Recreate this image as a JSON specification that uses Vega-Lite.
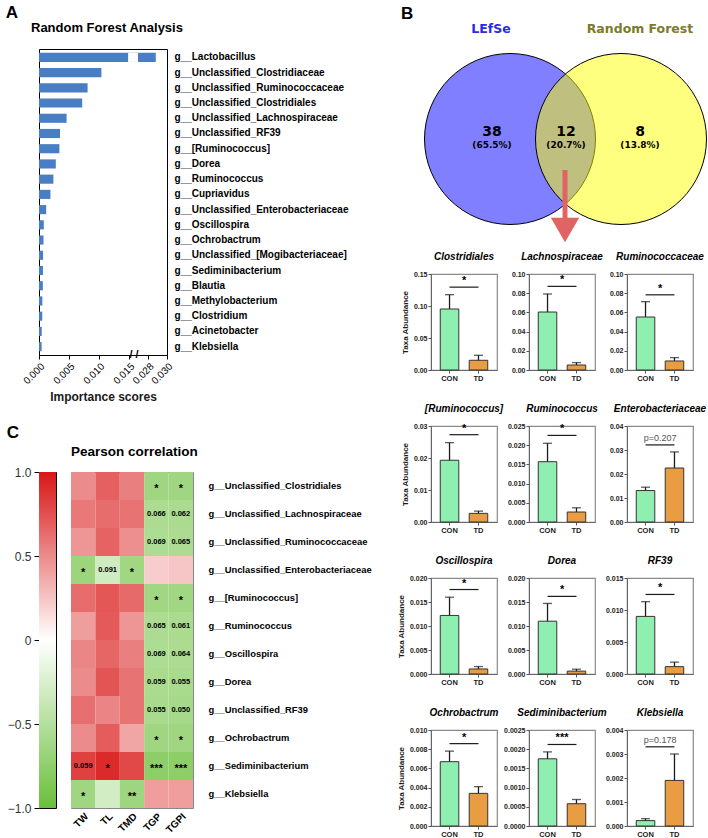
{
  "$schema": "https://vega.github.io/schema/vega-lite/v6.json",
  "background": "white",
  "padding": {"left": 5, "top": 3, "right": 0, "bottom": 2},
  "datasets": {
    "rf": [
      {"genus": "g__Lactobacillus", "importance": 0.0288},
      {"genus": "g__Unclassified_Clostridiaceae", "importance": 0.0104},
      {"genus": "g__Unclassified_Ruminococcaceae", "importance": 0.0081},
      {"genus": "g__Unclassified_Clostridiales", "importance": 0.0072},
      {"genus": "g__Unclassified_Lachnospiraceae", "importance": 0.0046},
      {"genus": "g__Unclassified_RF39", "importance": 0.0035},
      {"genus": "g__[Ruminococcus]", "importance": 0.0034},
      {"genus": "g__Dorea", "importance": 0.0028},
      {"genus": "g__Ruminococcus", "importance": 0.0024},
      {"genus": "g__Cupriavidus", "importance": 0.0019},
      {"genus": "g__Unclassified_Enterobacteriaceae", "importance": 0.0012},
      {"genus": "g__Oscillospira", "importance": 0.0008},
      {"genus": "g__Ochrobactrum", "importance": 0.00075},
      {"genus": "g__Unclassified_[Mogibacteriaceae]", "importance": 0.00068},
      {"genus": "g__Sediminibacterium", "importance": 0.00066},
      {"genus": "g__Blautia", "importance": 0.00064},
      {"genus": "g__Methylobacterium", "importance": 0.00056},
      {"genus": "g__Clostridium", "importance": 0.00054},
      {"genus": "g__Acinetobacter", "importance": 0.00046},
      {"genus": "g__Klebsiella", "importance": 0.00044}
    ],
    "venn_sets": [
      {"set": "LEfSe", "n": 50},
      {"set": "Random Forest", "n": 20}
    ],
    "venn": [
      {"region": "LEfSe only", "count": "38", "pct": "(65.5%)"},
      {"region": "Both", "count": "12", "pct": "(20.7%)"},
      {"region": "Random Forest only", "count": "8", "pct": "(13.8%)"}
    ],
    "abund": [
      {"genus": "Clostridiales", "group": "CON", "mean": 0.0953, "sd": 0.0224, "sig": "*"},
      {"genus": "Clostridiales", "group": "TD", "mean": 0.0152, "sd": 0.0078, "sig": "*"},
      {"genus": "Lachnospiraceae", "group": "CON", "mean": 0.0604, "sd": 0.0188, "sig": "*"},
      {"genus": "Lachnospiraceae", "group": "TD", "mean": 0.0052, "sd": 0.0025, "sig": "*"},
      {"genus": "Ruminococcaceae", "group": "CON", "mean": 0.0552, "sd": 0.016, "sig": "*"},
      {"genus": "Ruminococcaceae", "group": "TD", "mean": 0.0094, "sd": 0.0035, "sig": "*"},
      {"genus": "[Ruminococcus]", "group": "CON", "mean": 0.0193, "sd": 0.0055, "sig": "*"},
      {"genus": "[Ruminococcus]", "group": "TD", "mean": 0.0027, "sd": 0.0007, "sig": "*"},
      {"genus": "Ruminococcus", "group": "CON", "mean": 0.0157, "sd": 0.0048, "sig": "*"},
      {"genus": "Ruminococcus", "group": "TD", "mean": 0.0026, "sd": 0.0011, "sig": "*"},
      {"genus": "Enterobacteriaceae", "group": "CON", "mean": 0.0131, "sd": 0.0014, "sig": "p=0.207"},
      {"genus": "Enterobacteriaceae", "group": "TD", "mean": 0.0225, "sd": 0.0067, "sig": "p=0.207"},
      {"genus": "Oscillospira", "group": "CON", "mean": 0.0122, "sd": 0.0038, "sig": "*"},
      {"genus": "Oscillospira", "group": "TD", "mean": 0.00105, "sd": 0.0005, "sig": "*"},
      {"genus": "Dorea", "group": "CON", "mean": 0.011, "sd": 0.0037, "sig": "*"},
      {"genus": "Dorea", "group": "TD", "mean": 0.0006, "sd": 0.0004, "sig": "*"},
      {"genus": "RF39", "group": "CON", "mean": 0.009, "sd": 0.0023, "sig": "*"},
      {"genus": "RF39", "group": "TD", "mean": 0.00115, "sd": 0.0007, "sig": "*"},
      {"genus": "Ochrobactrum", "group": "CON", "mean": 0.0067, "sd": 0.0011, "sig": "*"},
      {"genus": "Ochrobactrum", "group": "TD", "mean": 0.0034, "sd": 0.0007, "sig": "*"},
      {"genus": "Sediminibacterium", "group": "CON", "mean": 0.00175, "sd": 0.00018, "sig": "***"},
      {"genus": "Sediminibacterium", "group": "TD", "mean": 0.00058, "sd": 0.00011, "sig": "***"},
      {"genus": "Klebsiella", "group": "CON", "mean": 0.000225, "sd": 0.00008, "sig": "p=0.178"},
      {"genus": "Klebsiella", "group": "TD", "mean": 0.0019, "sd": 0.0011, "sig": "p=0.178"}
    ],
    "corr": [
      {"genus": "g__Unclassified_Clostridiales", "var": "TW", "r": 0.5, "label": ""},
      {"genus": "g__Unclassified_Clostridiales", "var": "TL", "r": 0.68, "label": ""},
      {"genus": "g__Unclassified_Clostridiales", "var": "TMD", "r": 0.55, "label": ""},
      {"genus": "g__Unclassified_Clostridiales", "var": "TGP", "r": -0.64, "label": "*"},
      {"genus": "g__Unclassified_Clostridiales", "var": "TGPI", "r": -0.64, "label": "*"},
      {"genus": "g__Unclassified_Lachnospiraceae", "var": "TW", "r": 0.58, "label": ""},
      {"genus": "g__Unclassified_Lachnospiraceae", "var": "TL", "r": 0.63, "label": ""},
      {"genus": "g__Unclassified_Lachnospiraceae", "var": "TMD", "r": 0.6, "label": ""},
      {"genus": "g__Unclassified_Lachnospiraceae", "var": "TGP", "r": -0.56, "label": "0.066"},
      {"genus": "g__Unclassified_Lachnospiraceae", "var": "TGPI", "r": -0.57, "label": "0.062"},
      {"genus": "g__Unclassified_Ruminococcaceae", "var": "TW", "r": 0.45, "label": ""},
      {"genus": "g__Unclassified_Ruminococcaceae", "var": "TL", "r": 0.67, "label": ""},
      {"genus": "g__Unclassified_Ruminococcaceae", "var": "TMD", "r": 0.48, "label": ""},
      {"genus": "g__Unclassified_Ruminococcaceae", "var": "TGP", "r": -0.55, "label": "0.069"},
      {"genus": "g__Unclassified_Ruminococcaceae", "var": "TGPI", "r": -0.56, "label": "0.065"},
      {"genus": "g__Unclassified_Enterobacteriaceae", "var": "TW", "r": -0.66, "label": "*"},
      {"genus": "g__Unclassified_Enterobacteriaceae", "var": "TL", "r": -0.32, "label": "0.091"},
      {"genus": "g__Unclassified_Enterobacteriaceae", "var": "TMD", "r": -0.63, "label": "*"},
      {"genus": "g__Unclassified_Enterobacteriaceae", "var": "TGP", "r": 0.22, "label": ""},
      {"genus": "g__Unclassified_Enterobacteriaceae", "var": "TGPI", "r": 0.25, "label": ""},
      {"genus": "g__[Ruminococcus]", "var": "TW", "r": 0.63, "label": ""},
      {"genus": "g__[Ruminococcus]", "var": "TL", "r": 0.72, "label": ""},
      {"genus": "g__[Ruminococcus]", "var": "TMD", "r": 0.64, "label": ""},
      {"genus": "g__[Ruminococcus]", "var": "TGP", "r": -0.63, "label": "*"},
      {"genus": "g__[Ruminococcus]", "var": "TGPI", "r": -0.63, "label": "*"},
      {"genus": "g__Ruminococcus", "var": "TW", "r": 0.42, "label": ""},
      {"genus": "g__Ruminococcus", "var": "TL", "r": 0.71, "label": ""},
      {"genus": "g__Ruminococcus", "var": "TMD", "r": 0.45, "label": ""},
      {"genus": "g__Ruminococcus", "var": "TGP", "r": -0.56, "label": "0.065"},
      {"genus": "g__Ruminococcus", "var": "TGPI", "r": -0.57, "label": "0.061"},
      {"genus": "g__Oscillospira", "var": "TW", "r": 0.52, "label": ""},
      {"genus": "g__Oscillospira", "var": "TL", "r": 0.66, "label": ""},
      {"genus": "g__Oscillospira", "var": "TMD", "r": 0.55, "label": ""},
      {"genus": "g__Oscillospira", "var": "TGP", "r": -0.55, "label": "0.069"},
      {"genus": "g__Oscillospira", "var": "TGPI", "r": -0.56, "label": "0.064"},
      {"genus": "g__Dorea", "var": "TW", "r": 0.5, "label": ""},
      {"genus": "g__Dorea", "var": "TL", "r": 0.73, "label": ""},
      {"genus": "g__Dorea", "var": "TMD", "r": 0.6, "label": ""},
      {"genus": "g__Dorea", "var": "TGP", "r": -0.57, "label": "0.059"},
      {"genus": "g__Dorea", "var": "TGPI", "r": -0.58, "label": "0.055"},
      {"genus": "g__Unclassified_RF39", "var": "TW", "r": 0.62, "label": ""},
      {"genus": "g__Unclassified_RF39", "var": "TL", "r": 0.53, "label": ""},
      {"genus": "g__Unclassified_RF39", "var": "TMD", "r": 0.6, "label": ""},
      {"genus": "g__Unclassified_RF39", "var": "TGP", "r": -0.58, "label": "0.055"},
      {"genus": "g__Unclassified_RF39", "var": "TGPI", "r": -0.59, "label": "0.050"},
      {"genus": "g__Ochrobactrum", "var": "TW", "r": 0.5, "label": ""},
      {"genus": "g__Ochrobactrum", "var": "TL", "r": 0.7, "label": ""},
      {"genus": "g__Ochrobactrum", "var": "TMD", "r": 0.38, "label": ""},
      {"genus": "g__Ochrobactrum", "var": "TGP", "r": -0.64, "label": "*"},
      {"genus": "g__Ochrobactrum", "var": "TGPI", "r": -0.64, "label": "*"},
      {"genus": "g__Sediminibacterium", "var": "TW", "r": 0.82, "label": "0.059"},
      {"genus": "g__Sediminibacterium", "var": "TL", "r": 0.92, "label": "*"},
      {"genus": "g__Sediminibacterium", "var": "TMD", "r": 0.78, "label": ""},
      {"genus": "g__Sediminibacterium", "var": "TGP", "r": -0.76, "label": "***"},
      {"genus": "g__Sediminibacterium", "var": "TGPI", "r": -0.76, "label": "***"},
      {"genus": "g__Klebsiella", "var": "TW", "r": -0.64, "label": "*"},
      {"genus": "g__Klebsiella", "var": "TL", "r": -0.3, "label": ""},
      {"genus": "g__Klebsiella", "var": "TMD", "r": -0.65, "label": "**"},
      {"genus": "g__Klebsiella", "var": "TGP", "r": 0.42, "label": ""},
      {"genus": "g__Klebsiella", "var": "TGPI", "r": 0.42, "label": ""}
    ]
  },
  "config": {
    "font": "Liberation Sans",
    "view": {"stroke": null},
    "axis": {"grid": false, "labelFontSize": 7, "labelFontWeight": "bold", "labelColor": "#1a1a1a", "tickSize": 3, "tickColor": "#555555", "domainColor": "#666666", "titleFontSize": 8, "titleFontWeight": "bold", "titleColor": "#1a1a1a", "labelPadding": 1, "titlePadding": 4},
    "axisX": {"labelAngle": 0, "labelFontSize": 7.5},
    "title": {"fontSize": 10, "fontWeight": "bold", "fontStyle": "italic", "offset": 8, "color": "black"}
  },
  "columns": 2,
  "align": "none",
  "spacing": 24,
  "concat": [
    {
      "columns": 1,
      "align": "none",
      "spacing": 20,
      "concat": [
        {
          "title": {"text": "A", "anchor": "start", "fontSize": 17, "fontWeight": "bold", "fontStyle": "normal", "offset": 0, "dx": -15},
          "vconcat": [
            {
              "width": 128,
              "height": 306,
              "view": {"stroke": "black", "strokeWidth": 1},
              "title": {"text": "Random Forest Analysis", "anchor": "start", "frame": "group", "dx": -8, "fontSize": 13, "fontWeight": "bold", "fontStyle": "normal", "offset": 14},
              "data": {"name": "rf"},
              "encoding": {
                "y": {"field": "genus", "type": "nominal", "sort": null, "title": null,
                  "scale": {"paddingInner": 0.4, "paddingOuter": 0.25},
                  "axis": {"orient": "right", "ticks": false, "domain": false, "labelFontSize": 10, "labelFontWeight": "bold", "labelColor": "black", "labelPadding": 7}}
              },
              "layer": [
                {
                  "mark": {"type": "bar", "color": "#4a7ec4"},
                  "encoding": {
                    "x": {"field": "importance", "type": "quantitative", "title": "Importance scores",
                      "scale": {"domain": [0, 0.015, 0.027, 0.03], "range": [0, 90, 100, 128], "nice": false, "zero": false},
                      "axis": {"values": [0, 0.005, 0.01, 0.015, 0.028, 0.03], "tickCount": 12, "format": ".3f", "labelAngle": -45, "labelOverlap": false, "labelBound": false, "labelFontSize": 10, "labelFontWeight": "normal", "labelColor": "black", "labelPadding": 2, "tickColor": "black", "domainColor": "black", "tickSize": 4, "titleFontSize": 12, "titlePadding": 6}}
                  }
                },
                {
                  "transform": [{"filter": "datum.genus === 'g__Lactobacillus'"}],
                  "mark": {"type": "rect", "color": "white"},
                  "encoding": {
                    "x": {"datum": 0.01485, "type": "quantitative"},
                    "x2": {"datum": 0.0258},
                    "y": {"field": "genus", "type": "nominal", "sort": null}
                  }
                },
                {
                  "transform": [{"filter": "datum.genus === 'g__Klebsiella'"}],
                  "mark": {"type": "text", "text": "/ /", "fontSize": 11, "fontWeight": "bold", "dy": 8.5, "baseline": "middle", "color": "black"},
                  "encoding": {
                    "x": {"datum": 0.021, "type": "quantitative"},
                    "y": {"field": "genus", "type": "nominal", "sort": null}
                  }
                }
              ]
            }
          ]
        },
        {
          "title": {"text": "C", "anchor": "start", "fontSize": 17, "fontWeight": "bold", "fontStyle": "normal", "offset": 2, "dx": 0},
          "spacing": 13,
          "hconcat": [
            {
              "width": 17,
              "height": 336,
              "view": {"stroke": "black", "strokeWidth": 1},
              "data": {"values": [{"measure": "Pearson r"}]},
              "mark": {"type": "rect", "color": {"gradient": "linear", "x1": 0, "y1": 0, "x2": 0, "y2": 1, "stops": [{"offset": 0, "color": "#d91616"}, {"offset": 0.5, "color": "#ffffff"}, {"offset": 1, "color": "#6abf3a"}]}},
              "encoding": {
                "x": {"datum": 0, "type": "quantitative", "scale": {"domain": [0, 1], "nice": false}, "axis": null},
                "x2": {"datum": 1},
                "y": {"datum": -1, "type": "quantitative", "title": null, "scale": {"domain": [-1, 1], "nice": false},
                  "axis": {"values": [-1, -0.5, 0, 0.5, 1], "labelExpr": "datum.value === 0 ? '0' : format(datum.value, '.1f')", "labelFlush": false, "labelFontSize": 12, "labelFontWeight": "normal", "labelColor": "#333333", "tickSize": 5, "tickColor": "black", "domain": false, "labelPadding": 3}},
                "y2": {"datum": 1}
              }
            },
            {
              "width": 122,
              "height": 336,
              "view": {"stroke": "#888888", "strokeWidth": 1},
              "title": {"text": "Pearson correlation", "anchor": "start", "frame": "group", "fontSize": 13.5, "fontWeight": "bold", "fontStyle": "normal", "offset": 14},
              "data": {"name": "corr"},
              "encoding": {
                "x": {"field": "var", "type": "nominal", "sort": ["TW", "TL", "TMD", "TGP", "TGPI"], "title": null,
                  "axis": {"labelAngle": -45, "labelFontSize": 10, "labelFontWeight": "bold", "labelColor": "black", "ticks": false, "domain": false, "labelPadding": 3}},
                "y": {"field": "genus", "type": "nominal", "sort": null, "title": null,
                  "axis": {"orient": "right", "ticks": false, "domain": false, "labelFontSize": 9.4, "labelFontWeight": "bold", "labelColor": "black", "labelPadding": 15}}
              },
              "layer": [
                {
                  "mark": "rect",
                  "encoding": {
                    "color": {"field": "r", "type": "quantitative",
                      "scale": {"domain": [-1, 0, 1], "range": ["#6abf3a", "#ffffff", "#d91616"], "interpolate": "rgb"},
                      "legend": null}
                  }
                },
                {
                  "transform": [{"filter": "datum.label !== '*' && datum.label !== '**' && datum.label !== '***'"}],
                  "mark": {"type": "text", "fontSize": 7.5, "fontWeight": "bold", "color": "black"},
                  "encoding": {"text": {"field": "label"}}
                },
                {
                  "transform": [{"filter": "datum.label === '*' || datum.label === '**' || datum.label === '***'"}],
                  "mark": {"type": "text", "fontSize": 11, "fontWeight": "bold", "color": "black", "dy": 3},
                  "encoding": {"text": {"field": "label"}}
                }
              ]
            }
          ]
        }
      ]
    },
    {
      "columns": 1,
      "align": "none",
      "spacing": 8,
      "concat": [
        {
          "width": 276,
          "height": 193,
          "title": {"text": "B", "anchor": "start", "frame": "group", "fontSize": 17, "fontWeight": "bold", "fontStyle": "normal", "offset": 0, "dx": -30},
          "layer": [
            {
              "data": {"name": "venn_sets"},
              "transform": [{"filter": "datum.set === 'LEfSe'"}],
              "mark": {"type": "point", "shape": "circle", "filled": true, "fill": "#0000ff", "fillOpacity": 0.5, "opacity": 1, "stroke": "black", "strokeWidth": 1, "strokeOpacity": 1, "size": 29241},
              "encoding": {
                "x": {"datum": 79, "type": "quantitative", "scale": {"domain": [0, 276], "nice": false, "zero": false}, "axis": null},
                "y": {"datum": 90, "type": "quantitative", "scale": {"domain": [0, 193], "nice": false, "zero": false, "reverse": true}, "axis": null}
              }
            },
            {
              "data": {"name": "venn_sets"},
              "transform": [{"filter": "datum.set === 'Random Forest'"}],
              "mark": {"type": "point", "shape": "circle", "filled": true, "fill": "#ffff00", "fillOpacity": 0.5, "opacity": 1, "stroke": "black", "strokeWidth": 1, "strokeOpacity": 1, "size": 29241},
              "encoding": {
                "x": {"datum": 190, "type": "quantitative"},
                "y": {"datum": 90, "type": "quantitative"}
              }
            },
            {
              "data": {"name": "venn_sets"},
              "transform": [{"filter": "datum.set === 'LEfSe'"}],
              "mark": {"type": "text", "font": "DejaVu Sans", "fontWeight": "bold", "fontSize": 12.5, "color": "#2b2be6"},
              "encoding": {"x": {"datum": 60, "type": "quantitative"}, "y": {"datum": -20, "type": "quantitative"}, "text": {"field": "set"}}
            },
            {
              "data": {"name": "venn_sets"},
              "transform": [{"filter": "datum.set === 'Random Forest'"}],
              "mark": {"type": "text", "font": "DejaVu Sans", "fontWeight": "bold", "fontSize": 12.5, "color": "#7c7a2c"},
              "encoding": {"x": {"datum": 209, "type": "quantitative"}, "y": {"datum": -20, "type": "quantitative"}, "text": {"field": "set"}}
            },
            {
              "data": {"name": "venn"},
              "transform": [{"filter": "datum.region === 'LEfSe only'"}],
              "layer": [
                {"mark": {"type": "text", "font": "DejaVu Sans", "fontWeight": "bold", "fontSize": 14, "color": "black"},
                 "encoding": {"x": {"datum": 61, "type": "quantitative"}, "y": {"datum": 83, "type": "quantitative"}, "text": {"field": "count"}}},
                {"mark": {"type": "text", "font": "DejaVu Sans", "fontWeight": "bold", "fontSize": 9, "color": "black"},
                 "encoding": {"x": {"datum": 61, "type": "quantitative"}, "y": {"datum": 96, "type": "quantitative"}, "text": {"field": "pct"}}}
              ]
            },
            {
              "data": {"name": "venn"},
              "transform": [{"filter": "datum.region === 'Both'"}],
              "layer": [
                {"mark": {"type": "text", "font": "DejaVu Sans", "fontWeight": "bold", "fontSize": 14, "color": "black"},
                 "encoding": {"x": {"datum": 135, "type": "quantitative"}, "y": {"datum": 83, "type": "quantitative"}, "text": {"field": "count"}}},
                {"mark": {"type": "text", "font": "DejaVu Sans", "fontWeight": "bold", "fontSize": 9, "color": "black"},
                 "encoding": {"x": {"datum": 135, "type": "quantitative"}, "y": {"datum": 96, "type": "quantitative"}, "text": {"field": "pct"}}},
                {"mark": {"type": "rule", "color": "#e06464", "strokeWidth": 5},
                 "encoding": {"x": {"datum": 134, "type": "quantitative"}, "y": {"datum": 121, "type": "quantitative"}, "y2": {"datum": 171}}},
                {"mark": {"type": "point", "shape": "triangle-down", "filled": true, "color": "#e06464", "opacity": 1, "size": 800},
                 "encoding": {"x": {"datum": 134, "type": "quantitative"}, "y": {"datum": 181, "type": "quantitative"}}}
              ]
            },
            {
              "data": {"name": "venn"},
              "transform": [{"filter": "datum.region === 'Random Forest only'"}],
              "layer": [
                {"mark": {"type": "text", "font": "DejaVu Sans", "fontWeight": "bold", "fontSize": 14, "color": "black"},
                 "encoding": {"x": {"datum": 209, "type": "quantitative"}, "y": {"datum": 83, "type": "quantitative"}, "text": {"field": "count"}}},
                {"mark": {"type": "text", "font": "DejaVu Sans", "fontWeight": "bold", "fontSize": 9, "color": "black"},
                 "encoding": {"x": {"datum": 209, "type": "quantitative"}, "y": {"datum": 96, "type": "quantitative"}, "text": {"field": "pct"}}}
              ]
            }
          ]
        },
        {
          "columns": 3,
          "bounds": "flush",
          "spacing": {"row": 56, "column": 32},
          "concat": [
            {
              "width": 66, "height": 96,
              "view": {"stroke": "#8a8a8a", "strokeWidth": 1.2},
              "title": "Clostridiales",
              "data": {"name": "abund"},
              "transform": [{"filter": "datum.genus === 'Clostridiales'"}],
              "encoding": {"x": {"field": "group", "type": "nominal", "title": null, "scale": {"domain": ["CON", "TD"], "paddingInner": 0.36, "paddingOuter": 0.32}}},
              "layer": [
                {"mark": {"type": "errorbar", "ticks": true, "size": 9, "thickness": 1.3, "color": "#1a1a1a"},
                 "encoding": {"y": {"field": "mean", "type": "quantitative", "title": "Taxa Abundance", "scale": {"domain": [0, 0.15], "nice": false}, "axis": {"tickCount": 3}}, "yError": {"field": "sd"}}},
                {"mark": {"type": "bar", "stroke": "#333333", "strokeWidth": 1},
                 "encoding": {"y": {"field": "mean", "type": "quantitative", "title": "Taxa Abundance"}, "fill": {"field": "group", "type": "nominal", "scale": {"domain": ["CON", "TD"], "range": ["#8eefb0", "#e89d42"]}, "legend": null}}},
                {"transform": [{"calculate": "datum.mean + datum.sd", "as": "upper"}, {"aggregate": [{"op": "max", "field": "upper", "as": "top"}], "groupby": ["sig"]}, {"calculate": "datum.top * 1.1", "as": "sig_y"}],
                 "layer": [
                   {"mark": {"type": "rule", "strokeWidth": 1.2, "color": "#1a1a1a"}, "encoding": {"x": {"datum": "CON", "type": "nominal"}, "x2": {"datum": "TD"}, "y": {"field": "sig_y", "type": "quantitative", "title": "Taxa Abundance"}}},
                   {"mark": {"type": "text", "dx": 14.5, "dy": -1, "baseline": "bottom", "fontSize": 11, "fontWeight": "bold"}, "encoding": {"x": {"datum": "CON", "type": "nominal"}, "y": {"field": "sig_y", "type": "quantitative", "title": "Taxa Abundance"}, "text": {"field": "sig"}}}
                 ]}
              ]
            },
            {
              "width": 66, "height": 96,
              "view": {"stroke": "#8a8a8a", "strokeWidth": 1.2},
              "title": "Lachnospiraceae",
              "data": {"name": "abund"},
              "transform": [{"filter": "datum.genus === 'Lachnospiraceae'"}],
              "encoding": {"x": {"field": "group", "type": "nominal", "title": null, "scale": {"domain": ["CON", "TD"], "paddingInner": 0.36, "paddingOuter": 0.32}}},
              "layer": [
                {"mark": {"type": "errorbar", "ticks": true, "size": 9, "thickness": 1.3, "color": "#1a1a1a"},
                 "encoding": {"y": {"field": "mean", "type": "quantitative", "title": null, "scale": {"domain": [0, 0.1], "nice": false}, "axis": {"tickCount": 5}}, "yError": {"field": "sd"}}},
                {"mark": {"type": "bar", "stroke": "#333333", "strokeWidth": 1},
                 "encoding": {"y": {"field": "mean", "type": "quantitative", "title": null}, "fill": {"field": "group", "type": "nominal", "scale": {"domain": ["CON", "TD"], "range": ["#8eefb0", "#e89d42"]}, "legend": null}}},
                {"transform": [{"calculate": "datum.mean + datum.sd", "as": "upper"}, {"aggregate": [{"op": "max", "field": "upper", "as": "top"}], "groupby": ["sig"]}, {"calculate": "datum.top * 1.1", "as": "sig_y"}],
                 "layer": [
                   {"mark": {"type": "rule", "strokeWidth": 1.2, "color": "#1a1a1a"}, "encoding": {"x": {"datum": "CON", "type": "nominal"}, "x2": {"datum": "TD"}, "y": {"field": "sig_y", "type": "quantitative", "title": null}}},
                   {"mark": {"type": "text", "dx": 14.5, "dy": -1, "baseline": "bottom", "fontSize": 11, "fontWeight": "bold"}, "encoding": {"x": {"datum": "CON", "type": "nominal"}, "y": {"field": "sig_y", "type": "quantitative", "title": null}, "text": {"field": "sig"}}}
                 ]}
              ]
            },
            {
              "width": 66, "height": 96,
              "view": {"stroke": "#8a8a8a", "strokeWidth": 1.2},
              "title": "Ruminococcaceae",
              "data": {"name": "abund"},
              "transform": [{"filter": "datum.genus === 'Ruminococcaceae'"}],
              "encoding": {"x": {"field": "group", "type": "nominal", "title": null, "scale": {"domain": ["CON", "TD"], "paddingInner": 0.36, "paddingOuter": 0.32}}},
              "layer": [
                {"mark": {"type": "errorbar", "ticks": true, "size": 9, "thickness": 1.3, "color": "#1a1a1a"},
                 "encoding": {"y": {"field": "mean", "type": "quantitative", "title": null, "scale": {"domain": [0, 0.1], "nice": false}, "axis": {"tickCount": 5}}, "yError": {"field": "sd"}}},
                {"mark": {"type": "bar", "stroke": "#333333", "strokeWidth": 1},
                 "encoding": {"y": {"field": "mean", "type": "quantitative", "title": null}, "fill": {"field": "group", "type": "nominal", "scale": {"domain": ["CON", "TD"], "range": ["#8eefb0", "#e89d42"]}, "legend": null}}},
                {"transform": [{"calculate": "datum.mean + datum.sd", "as": "upper"}, {"aggregate": [{"op": "max", "field": "upper", "as": "top"}], "groupby": ["sig"]}, {"calculate": "datum.top * 1.1", "as": "sig_y"}],
                 "layer": [
                   {"mark": {"type": "rule", "strokeWidth": 1.2, "color": "#1a1a1a"}, "encoding": {"x": {"datum": "CON", "type": "nominal"}, "x2": {"datum": "TD"}, "y": {"field": "sig_y", "type": "quantitative", "title": null}}},
                   {"mark": {"type": "text", "dx": 14.5, "dy": -1, "baseline": "bottom", "fontSize": 11, "fontWeight": "bold"}, "encoding": {"x": {"datum": "CON", "type": "nominal"}, "y": {"field": "sig_y", "type": "quantitative", "title": null}, "text": {"field": "sig"}}}
                 ]}
              ]
            },
            {
              "width": 66, "height": 96,
              "view": {"stroke": "#8a8a8a", "strokeWidth": 1.2},
              "title": "[Ruminococcus]",
              "data": {"name": "abund"},
              "transform": [{"filter": "datum.genus === '[Ruminococcus]'"}],
              "encoding": {"x": {"field": "group", "type": "nominal", "title": null, "scale": {"domain": ["CON", "TD"], "paddingInner": 0.36, "paddingOuter": 0.32}}},
              "layer": [
                {"mark": {"type": "errorbar", "ticks": true, "size": 9, "thickness": 1.3, "color": "#1a1a1a"},
                 "encoding": {"y": {"field": "mean", "type": "quantitative", "title": "Taxa Abundance", "scale": {"domain": [0, 0.03], "nice": false}, "axis": {"tickCount": 3}}, "yError": {"field": "sd"}}},
                {"mark": {"type": "bar", "stroke": "#333333", "strokeWidth": 1},
                 "encoding": {"y": {"field": "mean", "type": "quantitative", "title": "Taxa Abundance"}, "fill": {"field": "group", "type": "nominal", "scale": {"domain": ["CON", "TD"], "range": ["#8eefb0", "#e89d42"]}, "legend": null}}},
                {"transform": [{"calculate": "datum.mean + datum.sd", "as": "upper"}, {"aggregate": [{"op": "max", "field": "upper", "as": "top"}], "groupby": ["sig"]}, {"calculate": "datum.top * 1.1", "as": "sig_y"}],
                 "layer": [
                   {"mark": {"type": "rule", "strokeWidth": 1.2, "color": "#1a1a1a"}, "encoding": {"x": {"datum": "CON", "type": "nominal"}, "x2": {"datum": "TD"}, "y": {"field": "sig_y", "type": "quantitative", "title": "Taxa Abundance"}}},
                   {"mark": {"type": "text", "dx": 14.5, "dy": -1, "baseline": "bottom", "fontSize": 11, "fontWeight": "bold"}, "encoding": {"x": {"datum": "CON", "type": "nominal"}, "y": {"field": "sig_y", "type": "quantitative", "title": "Taxa Abundance"}, "text": {"field": "sig"}}}
                 ]}
              ]
            },
            {
              "width": 66, "height": 96,
              "view": {"stroke": "#8a8a8a", "strokeWidth": 1.2},
              "title": "Ruminococcus",
              "data": {"name": "abund"},
              "transform": [{"filter": "datum.genus === 'Ruminococcus'"}],
              "encoding": {"x": {"field": "group", "type": "nominal", "title": null, "scale": {"domain": ["CON", "TD"], "paddingInner": 0.36, "paddingOuter": 0.32}}},
              "layer": [
                {"mark": {"type": "errorbar", "ticks": true, "size": 9, "thickness": 1.3, "color": "#1a1a1a"},
                 "encoding": {"y": {"field": "mean", "type": "quantitative", "title": null, "scale": {"domain": [0, 0.025], "nice": false}, "axis": {"tickCount": 5}}, "yError": {"field": "sd"}}},
                {"mark": {"type": "bar", "stroke": "#333333", "strokeWidth": 1},
                 "encoding": {"y": {"field": "mean", "type": "quantitative", "title": null}, "fill": {"field": "group", "type": "nominal", "scale": {"domain": ["CON", "TD"], "range": ["#8eefb0", "#e89d42"]}, "legend": null}}},
                {"transform": [{"calculate": "datum.mean + datum.sd", "as": "upper"}, {"aggregate": [{"op": "max", "field": "upper", "as": "top"}], "groupby": ["sig"]}, {"calculate": "datum.top * 1.1", "as": "sig_y"}],
                 "layer": [
                   {"mark": {"type": "rule", "strokeWidth": 1.2, "color": "#1a1a1a"}, "encoding": {"x": {"datum": "CON", "type": "nominal"}, "x2": {"datum": "TD"}, "y": {"field": "sig_y", "type": "quantitative", "title": null}}},
                   {"mark": {"type": "text", "dx": 14.5, "dy": -1, "baseline": "bottom", "fontSize": 11, "fontWeight": "bold"}, "encoding": {"x": {"datum": "CON", "type": "nominal"}, "y": {"field": "sig_y", "type": "quantitative", "title": null}, "text": {"field": "sig"}}}
                 ]}
              ]
            },
            {
              "width": 66, "height": 96,
              "view": {"stroke": "#8a8a8a", "strokeWidth": 1.2},
              "title": "Enterobacteriaceae",
              "data": {"name": "abund"},
              "transform": [{"filter": "datum.genus === 'Enterobacteriaceae'"}],
              "encoding": {"x": {"field": "group", "type": "nominal", "title": null, "scale": {"domain": ["CON", "TD"], "paddingInner": 0.36, "paddingOuter": 0.32}}},
              "layer": [
                {"mark": {"type": "errorbar", "ticks": true, "size": 9, "thickness": 1.3, "color": "#1a1a1a"},
                 "encoding": {"y": {"field": "mean", "type": "quantitative", "title": null, "scale": {"domain": [0, 0.04], "nice": false}, "axis": {"tickCount": 4}}, "yError": {"field": "sd"}}},
                {"mark": {"type": "bar", "stroke": "#333333", "strokeWidth": 1},
                 "encoding": {"y": {"field": "mean", "type": "quantitative", "title": null}, "fill": {"field": "group", "type": "nominal", "scale": {"domain": ["CON", "TD"], "range": ["#8eefb0", "#e89d42"]}, "legend": null}}},
                {"transform": [{"calculate": "datum.mean + datum.sd", "as": "upper"}, {"aggregate": [{"op": "max", "field": "upper", "as": "top"}], "groupby": ["sig"]}, {"calculate": "datum.top * 1.1", "as": "sig_y"}],
                 "layer": [
                   {"mark": {"type": "rule", "strokeWidth": 1.2, "color": "#1a1a1a"}, "encoding": {"x": {"datum": "CON", "type": "nominal"}, "x2": {"datum": "TD"}, "y": {"field": "sig_y", "type": "quantitative", "title": null}}},
                   {"mark": {"type": "text", "dx": 14.5, "dy": -2, "baseline": "bottom", "fontSize": 9, "color": "#555555"}, "encoding": {"x": {"datum": "CON", "type": "nominal"}, "y": {"field": "sig_y", "type": "quantitative", "title": null}, "text": {"field": "sig"}}}
                 ]}
              ]
            },
            {
              "width": 66, "height": 96,
              "view": {"stroke": "#8a8a8a", "strokeWidth": 1.2},
              "title": "Oscillospira",
              "data": {"name": "abund"},
              "transform": [{"filter": "datum.genus === 'Oscillospira'"}],
              "encoding": {"x": {"field": "group", "type": "nominal", "title": null, "scale": {"domain": ["CON", "TD"], "paddingInner": 0.36, "paddingOuter": 0.32}}},
              "layer": [
                {"mark": {"type": "errorbar", "ticks": true, "size": 9, "thickness": 1.3, "color": "#1a1a1a"},
                 "encoding": {"y": {"field": "mean", "type": "quantitative", "title": "Taxa Abundance", "scale": {"domain": [0, 0.02], "nice": false}, "axis": {"tickCount": 4}}, "yError": {"field": "sd"}}},
                {"mark": {"type": "bar", "stroke": "#333333", "strokeWidth": 1},
                 "encoding": {"y": {"field": "mean", "type": "quantitative", "title": "Taxa Abundance"}, "fill": {"field": "group", "type": "nominal", "scale": {"domain": ["CON", "TD"], "range": ["#8eefb0", "#e89d42"]}, "legend": null}}},
                {"transform": [{"calculate": "datum.mean + datum.sd", "as": "upper"}, {"aggregate": [{"op": "max", "field": "upper", "as": "top"}], "groupby": ["sig"]}, {"calculate": "datum.top * 1.1", "as": "sig_y"}],
                 "layer": [
                   {"mark": {"type": "rule", "strokeWidth": 1.2, "color": "#1a1a1a"}, "encoding": {"x": {"datum": "CON", "type": "nominal"}, "x2": {"datum": "TD"}, "y": {"field": "sig_y", "type": "quantitative", "title": "Taxa Abundance"}}},
                   {"mark": {"type": "text", "dx": 14.5, "dy": -1, "baseline": "bottom", "fontSize": 11, "fontWeight": "bold"}, "encoding": {"x": {"datum": "CON", "type": "nominal"}, "y": {"field": "sig_y", "type": "quantitative", "title": "Taxa Abundance"}, "text": {"field": "sig"}}}
                 ]}
              ]
            },
            {
              "width": 66, "height": 96,
              "view": {"stroke": "#8a8a8a", "strokeWidth": 1.2},
              "title": "Dorea",
              "data": {"name": "abund"},
              "transform": [{"filter": "datum.genus === 'Dorea'"}],
              "encoding": {"x": {"field": "group", "type": "nominal", "title": null, "scale": {"domain": ["CON", "TD"], "paddingInner": 0.36, "paddingOuter": 0.32}}},
              "layer": [
                {"mark": {"type": "errorbar", "ticks": true, "size": 9, "thickness": 1.3, "color": "#1a1a1a"},
                 "encoding": {"y": {"field": "mean", "type": "quantitative", "title": null, "scale": {"domain": [0, 0.02], "nice": false}, "axis": {"tickCount": 4}}, "yError": {"field": "sd"}}},
                {"mark": {"type": "bar", "stroke": "#333333", "strokeWidth": 1},
                 "encoding": {"y": {"field": "mean", "type": "quantitative", "title": null}, "fill": {"field": "group", "type": "nominal", "scale": {"domain": ["CON", "TD"], "range": ["#8eefb0", "#e89d42"]}, "legend": null}}},
                {"transform": [{"calculate": "datum.mean + datum.sd", "as": "upper"}, {"aggregate": [{"op": "max", "field": "upper", "as": "top"}], "groupby": ["sig"]}, {"calculate": "datum.top * 1.1", "as": "sig_y"}],
                 "layer": [
                   {"mark": {"type": "rule", "strokeWidth": 1.2, "color": "#1a1a1a"}, "encoding": {"x": {"datum": "CON", "type": "nominal"}, "x2": {"datum": "TD"}, "y": {"field": "sig_y", "type": "quantitative", "title": null}}},
                   {"mark": {"type": "text", "dx": 14.5, "dy": -1, "baseline": "bottom", "fontSize": 11, "fontWeight": "bold"}, "encoding": {"x": {"datum": "CON", "type": "nominal"}, "y": {"field": "sig_y", "type": "quantitative", "title": null}, "text": {"field": "sig"}}}
                 ]}
              ]
            },
            {
              "width": 66, "height": 96,
              "view": {"stroke": "#8a8a8a", "strokeWidth": 1.2},
              "title": "RF39",
              "data": {"name": "abund"},
              "transform": [{"filter": "datum.genus === 'RF39'"}],
              "encoding": {"x": {"field": "group", "type": "nominal", "title": null, "scale": {"domain": ["CON", "TD"], "paddingInner": 0.36, "paddingOuter": 0.32}}},
              "layer": [
                {"mark": {"type": "errorbar", "ticks": true, "size": 9, "thickness": 1.3, "color": "#1a1a1a"},
                 "encoding": {"y": {"field": "mean", "type": "quantitative", "title": null, "scale": {"domain": [0, 0.015], "nice": false}, "axis": {"tickCount": 3}}, "yError": {"field": "sd"}}},
                {"mark": {"type": "bar", "stroke": "#333333", "strokeWidth": 1},
                 "encoding": {"y": {"field": "mean", "type": "quantitative", "title": null}, "fill": {"field": "group", "type": "nominal", "scale": {"domain": ["CON", "TD"], "range": ["#8eefb0", "#e89d42"]}, "legend": null}}},
                {"transform": [{"calculate": "datum.mean + datum.sd", "as": "upper"}, {"aggregate": [{"op": "max", "field": "upper", "as": "top"}], "groupby": ["sig"]}, {"calculate": "datum.top * 1.1", "as": "sig_y"}],
                 "layer": [
                   {"mark": {"type": "rule", "strokeWidth": 1.2, "color": "#1a1a1a"}, "encoding": {"x": {"datum": "CON", "type": "nominal"}, "x2": {"datum": "TD"}, "y": {"field": "sig_y", "type": "quantitative", "title": null}}},
                   {"mark": {"type": "text", "dx": 14.5, "dy": -1, "baseline": "bottom", "fontSize": 11, "fontWeight": "bold"}, "encoding": {"x": {"datum": "CON", "type": "nominal"}, "y": {"field": "sig_y", "type": "quantitative", "title": null}, "text": {"field": "sig"}}}
                 ]}
              ]
            },
            {
              "width": 66, "height": 96,
              "view": {"stroke": "#8a8a8a", "strokeWidth": 1.2},
              "title": "Ochrobactrum",
              "data": {"name": "abund"},
              "transform": [{"filter": "datum.genus === 'Ochrobactrum'"}],
              "encoding": {"x": {"field": "group", "type": "nominal", "title": null, "scale": {"domain": ["CON", "TD"], "paddingInner": 0.36, "paddingOuter": 0.32}}},
              "layer": [
                {"mark": {"type": "errorbar", "ticks": true, "size": 9, "thickness": 1.3, "color": "#1a1a1a"},
                 "encoding": {"y": {"field": "mean", "type": "quantitative", "title": "Taxa Abundance", "scale": {"domain": [0, 0.01], "nice": false}, "axis": {"tickCount": 5}}, "yError": {"field": "sd"}}},
                {"mark": {"type": "bar", "stroke": "#333333", "strokeWidth": 1},
                 "encoding": {"y": {"field": "mean", "type": "quantitative", "title": "Taxa Abundance"}, "fill": {"field": "group", "type": "nominal", "scale": {"domain": ["CON", "TD"], "range": ["#8eefb0", "#e89d42"]}, "legend": null}}},
                {"transform": [{"calculate": "datum.mean + datum.sd", "as": "upper"}, {"aggregate": [{"op": "max", "field": "upper", "as": "top"}], "groupby": ["sig"]}, {"calculate": "datum.top * 1.1", "as": "sig_y"}],
                 "layer": [
                   {"mark": {"type": "rule", "strokeWidth": 1.2, "color": "#1a1a1a"}, "encoding": {"x": {"datum": "CON", "type": "nominal"}, "x2": {"datum": "TD"}, "y": {"field": "sig_y", "type": "quantitative", "title": "Taxa Abundance"}}},
                   {"mark": {"type": "text", "dx": 14.5, "dy": -1, "baseline": "bottom", "fontSize": 11, "fontWeight": "bold"}, "encoding": {"x": {"datum": "CON", "type": "nominal"}, "y": {"field": "sig_y", "type": "quantitative", "title": "Taxa Abundance"}, "text": {"field": "sig"}}}
                 ]}
              ]
            },
            {
              "width": 66, "height": 96,
              "view": {"stroke": "#8a8a8a", "strokeWidth": 1.2},
              "title": "Sediminibacterium",
              "data": {"name": "abund"},
              "transform": [{"filter": "datum.genus === 'Sediminibacterium'"}],
              "encoding": {"x": {"field": "group", "type": "nominal", "title": null, "scale": {"domain": ["CON", "TD"], "paddingInner": 0.36, "paddingOuter": 0.32}}},
              "layer": [
                {"mark": {"type": "errorbar", "ticks": true, "size": 9, "thickness": 1.3, "color": "#1a1a1a"},
                 "encoding": {"y": {"field": "mean", "type": "quantitative", "title": null, "scale": {"domain": [0, 0.0025], "nice": false}, "axis": {"tickCount": 5}}, "yError": {"field": "sd"}}},
                {"mark": {"type": "bar", "stroke": "#333333", "strokeWidth": 1},
                 "encoding": {"y": {"field": "mean", "type": "quantitative", "title": null}, "fill": {"field": "group", "type": "nominal", "scale": {"domain": ["CON", "TD"], "range": ["#8eefb0", "#e89d42"]}, "legend": null}}},
                {"transform": [{"calculate": "datum.mean + datum.sd", "as": "upper"}, {"aggregate": [{"op": "max", "field": "upper", "as": "top"}], "groupby": ["sig"]}, {"calculate": "datum.top * 1.1", "as": "sig_y"}],
                 "layer": [
                   {"mark": {"type": "rule", "strokeWidth": 1.2, "color": "#1a1a1a"}, "encoding": {"x": {"datum": "CON", "type": "nominal"}, "x2": {"datum": "TD"}, "y": {"field": "sig_y", "type": "quantitative", "title": null}}},
                   {"mark": {"type": "text", "dx": 14.5, "dy": -1, "baseline": "bottom", "fontSize": 11, "fontWeight": "bold"}, "encoding": {"x": {"datum": "CON", "type": "nominal"}, "y": {"field": "sig_y", "type": "quantitative", "title": null}, "text": {"field": "sig"}}}
                 ]}
              ]
            },
            {
              "width": 66, "height": 96,
              "view": {"stroke": "#8a8a8a", "strokeWidth": 1.2},
              "title": "Klebsiella",
              "data": {"name": "abund"},
              "transform": [{"filter": "datum.genus === 'Klebsiella'"}],
              "encoding": {"x": {"field": "group", "type": "nominal", "title": null, "scale": {"domain": ["CON", "TD"], "paddingInner": 0.36, "paddingOuter": 0.32}}},
              "layer": [
                {"mark": {"type": "errorbar", "ticks": true, "size": 9, "thickness": 1.3, "color": "#1a1a1a"},
                 "encoding": {"y": {"field": "mean", "type": "quantitative", "title": null, "scale": {"domain": [0, 0.004], "nice": false}, "axis": {"tickCount": 4}}, "yError": {"field": "sd"}}},
                {"mark": {"type": "bar", "stroke": "#333333", "strokeWidth": 1},
                 "encoding": {"y": {"field": "mean", "type": "quantitative", "title": null}, "fill": {"field": "group", "type": "nominal", "scale": {"domain": ["CON", "TD"], "range": ["#8eefb0", "#e89d42"]}, "legend": null}}},
                {"transform": [{"calculate": "datum.mean + datum.sd", "as": "upper"}, {"aggregate": [{"op": "max", "field": "upper", "as": "top"}], "groupby": ["sig"]}, {"calculate": "datum.top * 1.1", "as": "sig_y"}],
                 "layer": [
                   {"mark": {"type": "rule", "strokeWidth": 1.2, "color": "#1a1a1a"}, "encoding": {"x": {"datum": "CON", "type": "nominal"}, "x2": {"datum": "TD"}, "y": {"field": "sig_y", "type": "quantitative", "title": null}}},
                   {"mark": {"type": "text", "dx": 14.5, "dy": -2, "baseline": "bottom", "fontSize": 9, "color": "#555555"}, "encoding": {"x": {"datum": "CON", "type": "nominal"}, "y": {"field": "sig_y", "type": "quantitative", "title": null}, "text": {"field": "sig"}}}
                 ]}
              ]
            }
          ]
        }
      ]
    }
  ]
}
